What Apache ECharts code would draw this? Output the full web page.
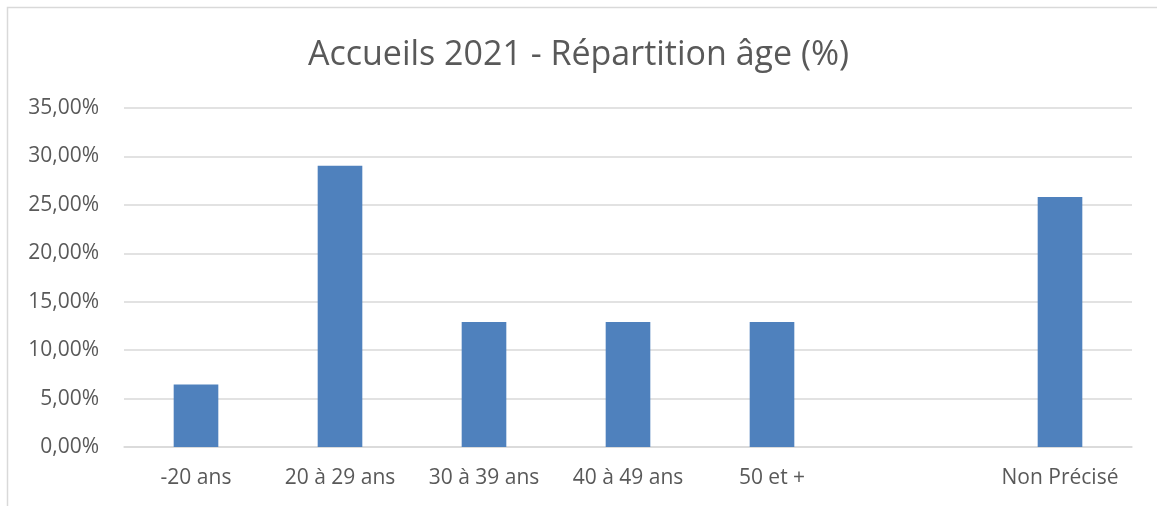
<!DOCTYPE html>
<html>
<head>
<meta charset="utf-8">
<script src="https://cdn.jsdelivr.net/npm/echarts@6/dist/echarts.min.js"></script>
<style>
html,body{margin:0;padding:0;background:#fff;}
#main{width:1157px;height:506px;}
</style>
</head>
<body>
<div id="main"></div>
<script>
const categories = ['-20 ans', '20 à 29 ans', '30 à 39 ans', '40 à 49 ans', '50 et +', '', 'Non Précisé'];
const values = [6.45, 29.03, 12.90, 12.90, 12.90, null, 25.81];
const yMin = 0, yMax = 35, yStep = 5;
const titleText = 'Accueils 2021 - Répartition âge (%)';

const chart = echarts.init(document.getElementById('main'), null, {renderer: 'canvas'});
const FONT = 'Open Sans';
chart.setOption({
  animation: false,
  backgroundColor: '#fff',
  title: {
    text: titleText,
    left: 'center',
    top: 33,
    textStyle: {fontFamily: FONT, fontSize: 34, fontWeight: 'normal', color: '#595959'}
  },
  graphic: [{
    type: 'rect',
    shape: {x: 7.5, y: 7.5, width: 1160, height: 510},
    style: {fill: 'none', stroke: '#d9d9d9', lineWidth: 1.5},
    silent: true
  }],
  grid: {left: 124, right: 25, top: 108, bottom: 59, containLabel: false},
  xAxis: {
    type: 'category',
    data: categories,
    axisLine: {show: true, lineStyle: {color: '#d9d9d9', width: 1.5}},
    axisTick: {show: false},
    axisLabel: {fontFamily: FONT, fontSize: 21, color: '#595959', margin: 21, interval: 0}
  },
  yAxis: {
    type: 'value',
    min: yMin, max: yMax, interval: yStep,
    axisLine: {show: false},
    axisTick: {show: false},
    splitLine: {lineStyle: {color: '#d9d9d9', width: 1.5}},
    axisLabel: {
      fontFamily: FONT, fontSize: 21, color: '#595959', margin: 25,
      formatter: v => v.toFixed(2).replace('.', ',') + '%'
    }
  },
  series: [{
    type: 'bar',
    data: values,
    barWidth: '31%',
    itemStyle: {color: '#4f81bd'}
  }]
});
</script>
</body>
</html>
